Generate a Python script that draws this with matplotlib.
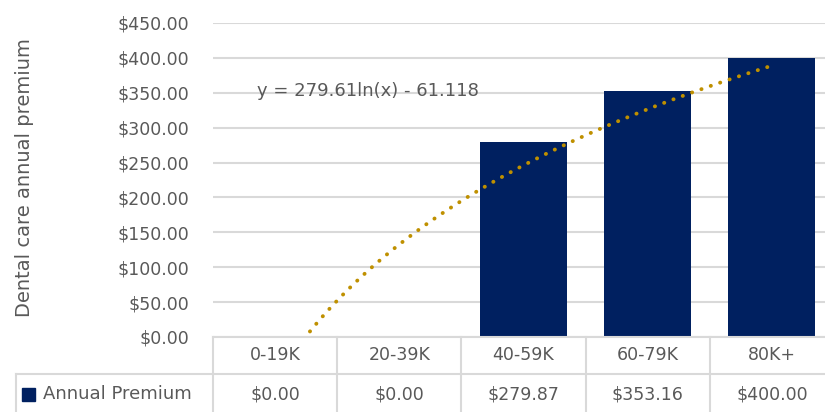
import numpy as np
import matplotlib.pyplot as plt
from matplotlib.transforms import blended_transform_factory

# Data
categories = ["0-19K", "20-39K", "40-59K", "60-79K", "80K+"]
premium = [0.00, 0.00, 279.87, 353.16, 400.00]
series_name = "Annual Premium"
y_label = "Dental care annual premium"

navy = "#002060"
gold = "#BF9000"
grey_text = "#595959"
grid_col = "#D9D9D9"

plt.rcParams['font.family'] = ['DejaVu Sans']
fs = 12.5

x = np.arange(1, len(categories) + 1)

# logarithmic trendline, like Excel's
slope, intercept = np.polyfit(np.log(x), premium, 1)
xt = np.linspace(1, len(categories), 200)
yt = slope * np.log(xt) + intercept

fig = plt.figure(figsize=(8.25, 4.12), dpi=100)
W, H = 825, 412
left, right, bottom, top = 213 / W, 834 / W, 1 - 337 / H, 1 - 23 / H
ax = fig.add_axes([left, bottom, right - left, top - bottom])

ax.bar(x, premium, width=0.7, color=navy, zorder=2)
ax.plot(xt, yt, color=gold, lw=2.8, linestyle=(0, (0.05, 2.5)),
        dash_capstyle='round', zorder=3)
ax.text(0.855, 352, f"y = {slope:.2f}ln(x) - {-intercept:.3f}", fontsize=fs + 0.5,
        color=grey_text, va='center', ha='left', zorder=4)

ax.set_xlim(0.5, len(categories) + 0.5)
ax.set_ylim(0, 450)
ax.set_yticks(np.arange(0, 451, 50))
ax.set_yticklabels([f"${v:.2f}" for v in np.arange(0, 451, 50)])
ax.tick_params(axis='y', length=0, pad=17, labelsize=fs, labelcolor=grey_text)
ax.set_xticks([])
ax.yaxis.grid(True, color=grid_col, lw=1.5)
ax.set_axisbelow(True)
for s in ["top", "right", "left"]:
    ax.spines[s].set_visible(False)
ax.spines["bottom"].set_color(grid_col)
ax.spines["bottom"].set_linewidth(1.5)

fig.text(25 / W, 1 - 178 / H, y_label, rotation=90, fontsize=14,
         color=grey_text, ha='center', va='center')

# data table under the chart
ah = 314.0
row1 = -37 / ah
row2 = -76 / ah
tb = blended_transform_factory(ax.transData, ax.transAxes)
leg_x = (16 - 213) / 621.0
for b in np.arange(0.5, len(categories) + 1, 1.0):
    ax.plot([b, b], [0, row2], transform=tb, color=grid_col, lw=1.5, clip_on=False)
ax.plot([leg_x, 1], [row1, row1], transform=ax.transAxes, color=grid_col,
        lw=1.5, clip_on=False)
ax.plot([leg_x, leg_x], [row1, row2], transform=ax.transAxes, color=grid_col,
        lw=1.5, clip_on=False)

for xi, cat, val in zip(x, categories, premium):
    ax.text(xi, -18 / ah, cat, transform=tb, ha='center', va='center',
            fontsize=fs, color=grey_text)
    ax.text(xi, -57 / ah, f"${val:.2f}", transform=tb, ha='center',
            va='center', fontsize=fs, color=grey_text)

fig.patches.append(plt.Rectangle((22 / W, 1 - 401 / H), 13 / W, 13 / H,
                                 transform=fig.transFigure, color=navy))
fig.text(43 / W, 1 - 394 / H, series_name, fontsize=fs + 0.5, color=grey_text,
         ha='left', va='center')

fig.savefig("out.png", dpi=100)
